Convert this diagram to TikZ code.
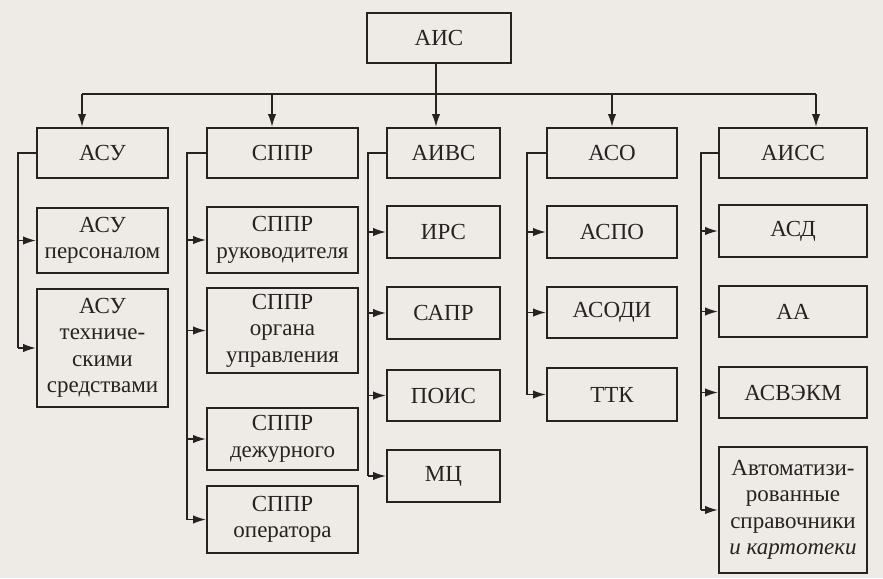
\documentclass[tikz,border=0pt]{standalone}
\usepackage{fontspec}
\setmainfont{Liberation Serif}
\usetikzlibrary{arrows.meta}
\definecolor{ink}{HTML}{252321}
\definecolor{paper}{HTML}{EEEBE6}
\tikzset{
  box/.style={draw=ink, line width=2pt, inner sep=0pt, align=center, text=ink,
    font=\fontsize{23}{26.5}\selectfont},
  wire/.style={draw=ink, line width=1.7pt},
  arr/.style={draw=ink, line width=1.7pt, -{Latex[length=13pt,width=8.5pt]}},
}
\begin{document}
\begin{tikzpicture}[x=1pt,y=-1pt]
\fill[paper] (0,0) rectangle (883,578);
\useasboundingbox (0,0) rectangle (883,578);

% top
\node[box, minimum width=144pt, minimum height=50pt] (ais) at (439,38) {АИС};

% row 1
\node[box, minimum width=131pt, minimum height=50pt] (asu)  at (102.5,153) {АСУ};
\node[box, minimum width=151pt, minimum height=50pt] (sppr) at (282.5,153) {СППР};
\node[box, minimum width=113pt, minimum height=50pt] (aivs) at (443.5,153) {АИВС};
\node[box, minimum width=130pt, minimum height=50pt] (aso)  at (612,153) {АСО};
\node[box, minimum width=148pt, minimum height=50pt] (aiss) at (793,153) {АИСС};

% column 1
\node[box, minimum width=131pt, minimum height=65pt] (asuA) at (102.5,240.5) {АСУ\\персоналом};
\node[box, minimum width=131pt, minimum height=118pt] (asuB) at (102.5,348) {АСУ\\техниче-\\скими\\средствами};

% column 2
\node[box, minimum width=151pt, minimum height=66pt] (spA) at (282.5,240) {СППР\\руководителя};
\node[box, minimum width=151pt, minimum height=85pt] (spB) at (282.5,330.5) {СППР\\органа\\управления};
\node[box, minimum width=151pt, minimum height=62pt] (spC) at (282.5,439) {СППР\\дежурного};
\node[box, minimum width=151pt, minimum height=67pt] (spD) at (282.5,519.5) {СППР\\оператора};

% column 3
\node[box, minimum width=113pt, minimum height=52pt] (irs)  at (443.5,232) {ИРС};
\node[box, minimum width=113pt, minimum height=52pt] (sapr) at (443.5,313) {САПР};
\node[box, minimum width=113pt, minimum height=51pt] (pois) at (443.5,395.5) {ПОИС};
\node[box, minimum width=113pt, minimum height=52pt] (mc)   at (443.5,476) {МЦ};

% column 4
\node[box, minimum width=130pt, minimum height=52pt] (aspo)  at (612,232) {АСПО};
\node[box, minimum width=130pt, minimum height=51pt] (asodi) at (612,312.5) {АСОДИ};
\node[box, minimum width=130pt, minimum height=53pt] (ttk)   at (612,394.5) {ТТК};

% column 5
\node[box, minimum width=148pt, minimum height=52pt] (asd)  at (793,231) {АСД};
\node[box, minimum width=148pt, minimum height=51pt] (aa)   at (793,311.5) {АА};
\node[box, minimum width=148pt, minimum height=51pt] (asv)  at (793,392.5) {АСВЭКМ};
\node[box, minimum width=148pt, minimum height=126pt] (auto) at (793,510) {Автоматизи-\\рованные\\справочники\\{\itshape и картотеки}};

% bus from АИС
\coordinate (t1) at (82,94);
\coordinate (t2) at (272,94);
\coordinate (t3) at (436,94);
\coordinate (t4) at (612,94);
\coordinate (t5) at (816,94);
\draw[arr] (t3 |- ais.south) -- (t3 |- aivs.north);
\draw[wire] (t1) -- (t5);
\draw[arr] (t1) -- (t1 |- asu.north);
\draw[arr] (t2) -- (t2 |- sppr.north);
\draw[arr] (t4) -- (t4 |- aso.north);
\draw[arr] (t5) -- (t5 |- aiss.north);

% trunks
\coordinate (v1) at (18,0);
\coordinate (v2) at (187,0);
\coordinate (v3) at (368,0);
\coordinate (v4) at (527,0);
\coordinate (v5) at (701,0);

\draw[wire] (asu.west) -- (asu.west -| v1) -- (asuB.west -| v1);
\draw[arr] (asuA.west -| v1) -- (asuA.west);
\draw[arr] (asuB.west -| v1) -- (asuB.west);

\draw[wire] (sppr.west) -- (sppr.west -| v2) -- (spD.west -| v2);
\draw[arr] (spA.west -| v2) -- (spA.west);
\draw[arr] (spB.west -| v2) -- (spB.west);
\draw[arr] (spC.west -| v2) -- (spC.west);
\draw[arr] (spD.west -| v2) -- (spD.west);

\draw[wire] (aivs.west) -- (aivs.west -| v3) -- (mc.west -| v3);
\draw[arr] (irs.west -| v3) -- (irs.west);
\draw[arr] (sapr.west -| v3) -- (sapr.west);
\draw[arr] (pois.west -| v3) -- (pois.west);
\draw[arr] (mc.west -| v3) -- (mc.west);

\draw[wire] (aso.west) -- (aso.west -| v4) -- (ttk.west -| v4);
\draw[arr] (aspo.west -| v4) -- (aspo.west);
\draw[arr] (asodi.west -| v4) -- (asodi.west);
\draw[arr] (ttk.west -| v4) -- (ttk.west);

\draw[wire] (aiss.west) -- (aiss.west -| v5) -- (auto.west -| v5);
\draw[arr] (asd.west -| v5) -- (asd.west);
\draw[arr] (aa.west -| v5) -- (aa.west);
\draw[arr] (asv.west -| v5) -- (asv.west);
\draw[arr] (auto.west -| v5) -- (auto.west);
\end{tikzpicture}
\end{document}
